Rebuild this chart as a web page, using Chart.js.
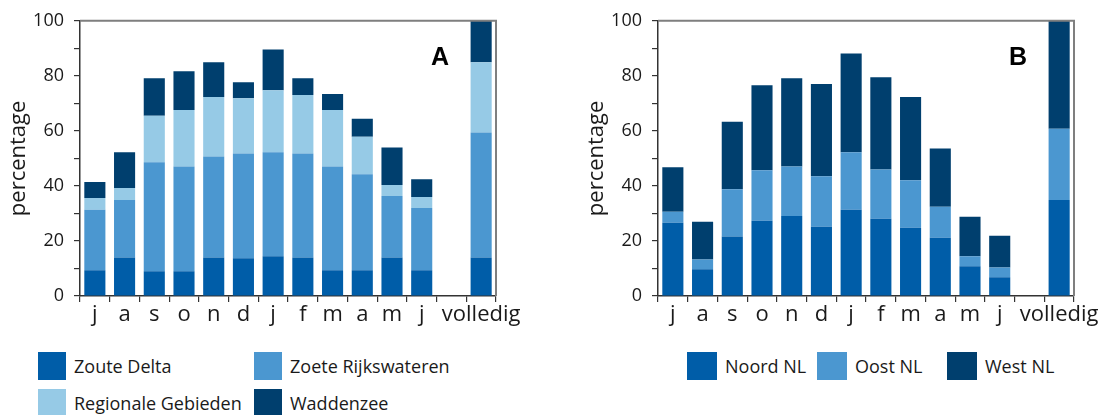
<!DOCTYPE html>
<html>
<head>
<meta charset="utf-8">
<script src="https://cdn.jsdelivr.net/npm/chart.js@4"></script>
<style>
  body { margin: 0; background: #fff; width: 1111px; height: 415px; position: relative; overflow: hidden; font-family: "Open Sans", sans-serif; color: #1a1a1a; }
  canvas { position: absolute; top: 0; }
  #grafiekA { left: 0; }
  #grafiekB { left: 578px; }
  .legenda { position: absolute; font-size: 18px; }
  .legenda .item { position: absolute; display: flex; align-items: center; height: 28px; white-space: nowrap; }
  .legenda .blok { width: 28px; height: 28px; margin-right: 8px; }
</style>
</head>
<body>
<canvas id="grafiekA" width="533" height="340"></canvas>
<canvas id="grafiekB" width="533" height="340"></canvas>
<div class="legenda" id="legendaA"></div>
<div class="legenda" id="legendaB"></div>
<script>
// Maanden (lege plek voor 'volledig')
const maanden = ['j', 'a', 's', 'o', 'n', 'd', 'j', 'f', 'm', 'a', 'm', 'j', '', 'volledig'];

// Grafiek A - watertypen
const zouteDelta      = [9.4, 14.0, 9.0, 9.0, 14.0, 13.7, 14.4, 14.0, 9.4, 9.4, 14.0, 9.4, null, 14.0];
const zoeteRijks      = [21.9, 20.9, 39.6, 38.1, 36.7, 38.1, 37.8, 37.8, 37.7, 34.8, 22.3, 22.6, null, 45.4];
const regionaleGebied = [4.3, 4.3, 16.9, 20.5, 21.6, 20.1, 22.6, 21.2, 20.5, 13.7, 4.0, 4.0, null, 25.5];
const waddenzee       = [5.8, 13.0, 13.6, 14.1, 12.6, 5.8, 14.8, 6.1, 5.8, 6.5, 13.7, 6.4, null, 15.1];

// Grafiek B - regio's
const noordNL = [26.6, 9.7, 21.6, 27.3, 29.1, 25.2, 31.3, 28.1, 24.8, 21.2, 10.8, 6.8, null, 34.9];
const oostNL  = [4.0, 3.6, 17.2, 18.4, 18.0, 18.3, 20.9, 17.9, 17.3, 11.2, 3.6, 3.6, null, 25.9];
const westNL  = [16.2, 13.7, 24.5, 30.9, 32.0, 33.5, 35.9, 33.5, 30.2, 21.2, 14.4, 11.5, null, 39.2];

const yTicks = [0, 20, 40, 60, 80, 100];

const kleuren = {
    donkerblauw: '#005da8',
    middenblauw: '#4b97d0',
    lichtblauw: '#96cae6',
    navy: '#003f6e'
};

// Grijze rand boven en rechts + letter in de hoek
const kaderPlugin = {
    id: 'kader',
    afterDraw(chart, args, opts) {
        const { ctx, chartArea } = chart;
        ctx.save();
        ctx.strokeStyle = '#7f7f7f';
        ctx.lineWidth = 2;
        ctx.beginPath();
        ctx.moveTo(chartArea.left, chartArea.top);
        ctx.lineTo(chartArea.right, chartArea.top);
        ctx.lineTo(chartArea.right, chartArea.bottom);
        ctx.stroke();
        ctx.fillStyle = '#000';
        ctx.font = 'bold 25px "Liberation Sans", Arial, sans-serif';
        ctx.textAlign = 'center';
        ctx.textBaseline = 'middle';
        ctx.fillText(opts.letter, chartArea.right - 56, chartArea.top + 37);
        ctx.restore();
    }
};

function maakGrafiek(id, letter, datasets) {
    const ctx = document.getElementById(id).getContext('2d');
    return new Chart(ctx, {
        type: 'bar',
        data: {
            labels: maanden,
            datasets: datasets.map(d => ({
                label: d.label,
                data: d.data,
                backgroundColor: d.kleur,
                borderWidth: 0,
                categoryPercentage: 1,
                barPercentage: 0.71
            }))
        },
        options: {
            responsive: false,
            animation: false,
            events: [],
            layout: {
                padding: { top: 18, right: 37, bottom: 0, left: 0 }
            },
            plugins: {
                legend: { display: false },
                tooltip: { enabled: false },
                kader: { letter: letter }
            },
            scales: {
                x: {
                    stacked: true,
                    afterFit: scale => { scale.height = 44; },
                    border: { display: true, color: '#333', width: 1.5 },
                    grid: {
                        display: true,
                        drawOnChartArea: false,
                        drawTicks: true,
                        tickLength: 6,
                        color: '#333',
                        lineWidth: 1.2
                    },
                    ticks: {
                        color: '#1a1a1a',
                        padding: 0,
                        maxRotation: 0,
                        autoSkip: false,
                        font: { family: '"Open Sans", sans-serif', size: 22 }
                    }
                },
                y: {
                    stacked: true,
                    min: 0,
                    max: 100,
                    afterFit: scale => { scale.width = 80; },
                    border: { display: true, color: '#333', width: 1.5 },
                    grid: {
                        display: true,
                        drawOnChartArea: false,
                        drawTicks: true,
                        tickLength: 6,
                        color: '#333',
                        lineWidth: 1.2
                    },
                    ticks: {
                        stepSize: 10,
                        padding: 10,
                        color: '#1a1a1a',
                        font: { family: '"Open Sans", sans-serif', size: 18 },
                        callback: value => yTicks.includes(value) ? value : ''
                    },
                    title: {
                        display: true,
                        text: 'percentage',
                        color: '#1a1a1a',
                        padding: { top: 6, bottom: 0 },
                        font: { family: '"Open Sans", sans-serif', size: 22 }
                    }
                }
            }
        },
        plugins: [kaderPlugin]
    });
}

const reeksenA = [
    { label: 'Zoute Delta', data: zouteDelta, kleur: kleuren.donkerblauw },
    { label: 'Zoete Rijkswateren', data: zoeteRijks, kleur: kleuren.middenblauw },
    { label: 'Regionale Gebieden', data: regionaleGebied, kleur: kleuren.lichtblauw },
    { label: 'Waddenzee', data: waddenzee, kleur: kleuren.navy }
];
const reeksenB = [
    { label: 'Noord NL', data: noordNL, kleur: kleuren.donkerblauw },
    { label: 'Oost NL', data: oostNL, kleur: kleuren.middenblauw },
    { label: 'West NL', data: westNL, kleur: kleuren.navy }
];

maakGrafiek('grafiekA', 'A', reeksenA);
maakGrafiek('grafiekB', 'B', reeksenB);

// Legenda's als HTML
function maakLegenda(id, reeksen, posities, blokBreedte) {
    const el = document.getElementById(id);
    reeksen.forEach((r, i) => {
        const item = document.createElement('div');
        item.className = 'item';
        item.style.left = posities[i][0] + 'px';
        item.style.top = posities[i][1] + 'px';
        const blok = document.createElement('span');
        blok.className = 'blok';
        blok.style.background = r.kleur;
        blok.style.width = blokBreedte + 'px';
        const tekst = document.createElement('span');
        tekst.textContent = r.label;
        item.appendChild(blok);
        item.appendChild(tekst);
        el.appendChild(item);
    });
}

maakLegenda('legendaA', reeksenA, [[38, 352], [254, 352], [38, 389], [254, 389]], 28);
maakLegenda('legendaB', reeksenB, [[687, 352], [817, 352], [947, 352]], 30);
</script>
</body>
</html>
